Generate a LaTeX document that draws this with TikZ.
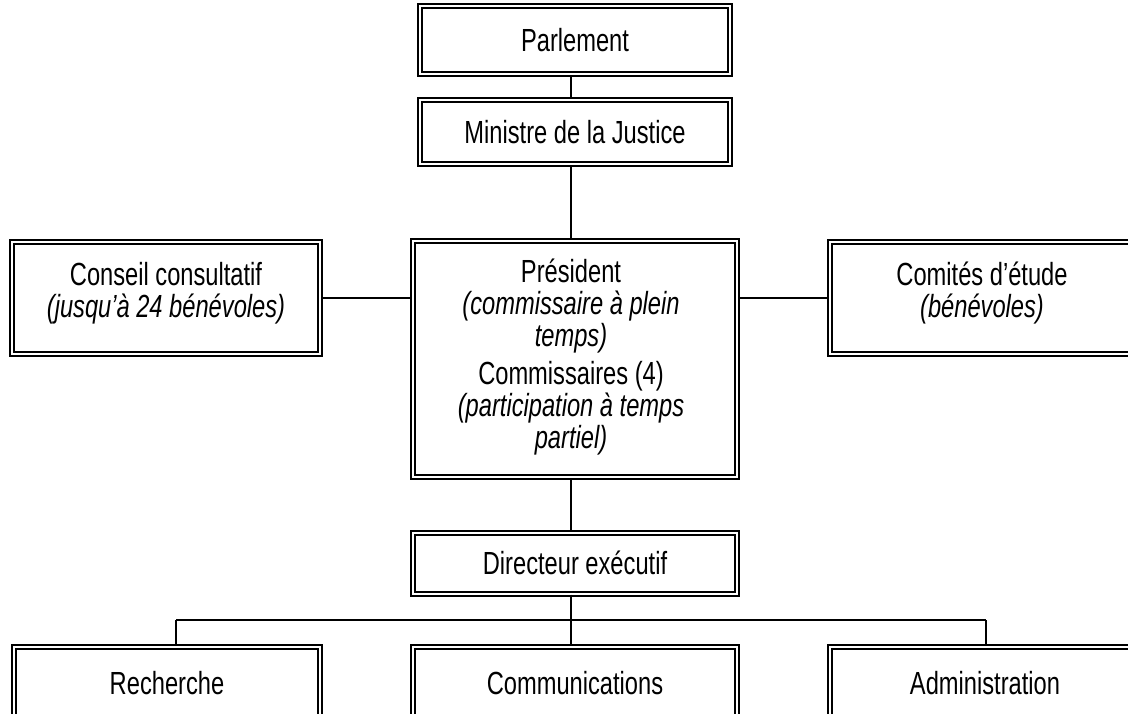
\documentclass[tikz,border=0pt]{standalone}
\usepackage{fontspec}
\setmainfont{Liberation Sans}[FakeStretch=0.74]

\begin{document}
\begin{tikzpicture}[x=0.5pt, y=-0.5pt,
  boxtext/.style={font=\fontsize{16pt}{16pt}\selectfont, align=center, inner sep=0pt},
  orgbox/.style={draw, double, line width=1pt, double distance=1pt, boxtext},
  link/.style={line width=0.7pt}]
  \clip (0,0) rectangle (1128,713);
  % Chain of command at the top
  \node(parlement)[orgbox, minimum width=155pt, minimum height=34pt] at (575,40) {Parlement};
  \node(ministre)[orgbox, minimum width=155pt, minimum height=32pt] at (575,132) {Ministre de la Justice};
  % Commission box and its text
  \node(president)[orgbox, minimum width=162pt, minimum height=118pt] at (575,359) {};
  \node(presText)[boxtext] at (571,357)
       {Président\\\textit{(commissaire à plein}\\\textit{temps)}\\[3pt]
        Commissaires (4)\\\textit{(participation à temps}\\\textit{partiel)}};
  % Side boxes
  \node(conseil)[orgbox, minimum width=154pt, minimum height=56pt] at (166,298) {};
  \node(conseilText)[boxtext] at (166,293)
       {Conseil consultatif\\\textit{(jusqu’à 24 bénévoles)}};
  \node(comites)[orgbox, minimum width=155pt, minimum height=56pt] at (985,298) {};
  \node(comitesText)[boxtext] at (982,293)
       {Comités d’étude\\\textit{(bénévoles)}};
  % Staff
  \node(directeur)[orgbox, minimum width=162pt, minimum height=30.5pt] at (575,563) {Directeur exécutif};
  \node(recherche)[orgbox, minimum width=153pt, minimum height=36pt] at (167,683) {Recherche};
  \node(communications)[orgbox, minimum width=162pt, minimum height=36pt] at (575,683) {Communications};
  \node(administration)[orgbox, minimum width=155pt, minimum height=36pt] at (985,683) {Administration};
  % Connectors
  \draw[link] (parlement.south -| 571,0) -- (ministre.north -| 571,0);
  \draw[link] (ministre.south -| 571,0) -- (president.north -| 571,0);
  \draw[link] (conseil.east) -- (conseil.east -| president.west);
  \draw[link] (comites.west -| president.east) -- (comites.west);
  \draw[link] (president.south -| 571,0) -- (directeur.north -| 571,0);
  \coordinate (busL) at (176,620);
  \coordinate (busR) at (986,620);
  \coordinate (busM) at (571,620);
  \draw[link] (directeur.south -| busM) -- (busM);
  \draw[link] (busL) -- (busR);
  \draw[link] (busL) -- (busL |- recherche.north);
  \draw[link] (busM) -- (busM |- communications.north);
  \draw[link] (busR) -- (busR |- administration.north);
\end{tikzpicture}
\end{document}
